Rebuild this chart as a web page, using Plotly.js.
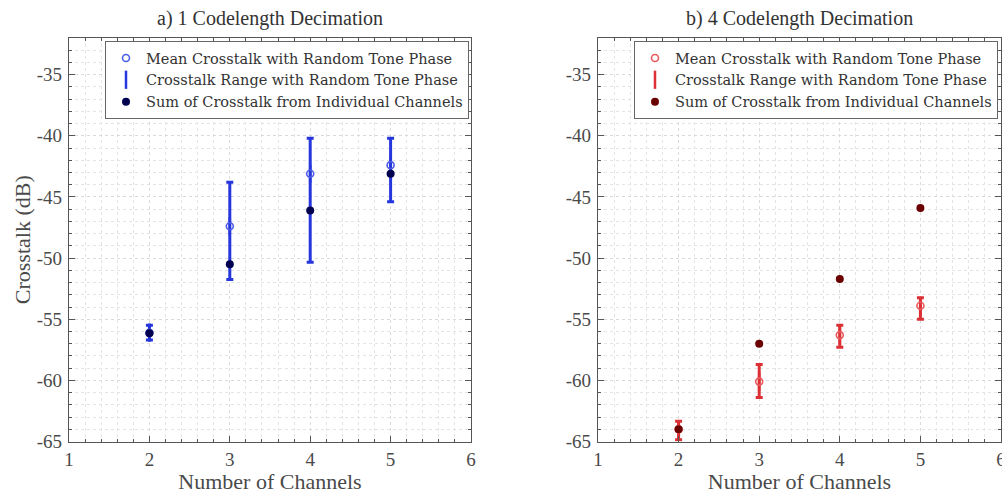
<!DOCTYPE html>
<html>
<head>
<meta charset="utf-8">
<script src="https://cdn.plot.ly/plotly-3.0.1.min.js"></script>
<style>html,body{margin:0;padding:0;background:#fff;}#chart{width:1002px;height:495px;}</style>
</head>
<body>
<div id="chart"></div>
<script>
// ---- data ----
const channels = [2, 3, 4, 5];

// a) 1 Codelength Decimation
const meanA = [-56.1, -47.4, -43.1, -42.4];
const maxA  = [-55.5, -43.8, -40.2, -40.2];
const minA  = [-56.7, -51.75, -50.35, -45.4];
const sumA  = [-56.15, -50.5, -46.1, -43.1];

// b) 4 Codelength Decimation
const meanB = [-64.0, -60.1, -56.3, -53.9];
const maxB  = [-63.35, -58.7, -55.5, -53.25];
const minB  = [-64.85, -61.4, -57.3, -55.0];
const sumB  = [-64.0, -57.0, -51.7, -45.9];

// tick labels
const xTickVals = [1, 2, 3, 4, 5, 6];
const xTickText = ['1', '2', '3', '4', '5', '6'];
const yTickVals = [-65, -60, -55, -50, -45, -40, -35];
const yTickText = ['-65', '-60', '-55', '-50', '-45', '-40', '-35'];

const legendLabels = [
  'Mean Crosstalk with Random Tone Phase',
  'Crosstalk Range with Random Tone Phase',
  'Sum of Crosstalk from Individual Channels'
];
const panelTitles = ['a) 1 Codelength Decimation', 'b) 4 Codelength Decimation'];
const xTitle = 'Number of Channels';
const yTitle = 'Crosstalk (dB)';

// ---- styling ----
const FONT = 'Liberation Serif, Times New Roman, serif';
const LFONT = 'DejaVu Serif, Liberation Serif, serif';
const TXT = '#4a4a4a';
const AX = '#555555';

function panelTraces(mean, mx, mn, sum, xa, ya, lg, cErr, cMean, cSum) {
  const up = mx.map((v, i) => v - mean[i]);
  const dn = mn.map((v, i) => mean[i] - v);
  return [
    { // range: error bars (legend symbol is a vertical line)
      type: 'scatter', mode: 'markers', x: channels, y: mean,
      xaxis: xa, yaxis: ya, legend: lg, legendrank: 2,
      name: legendLabels[1],
      marker: {symbol: 'line-ns-open', size: 13, color: cErr, line: {color: cErr, width: 2.5}},
      error_y: {type: 'data', symmetric: false, array: up, arrayminus: dn,
                color: cErr, thickness: 3, width: 3.5},
      hoverinfo: 'skip'
    },
    { // mean: open circles
      type: 'scatter', mode: 'markers', x: channels, y: mean,
      xaxis: xa, yaxis: ya, legend: lg, legendrank: 1,
      name: legendLabels[0],
      marker: {symbol: 'circle-open', size: 7, color: cMean, line: {color: cMean, width: 1.6}}
    },
    { // sum: filled dots
      type: 'scatter', mode: 'markers', x: channels, y: sum,
      xaxis: xa, yaxis: ya, legend: lg, legendrank: 3,
      name: legendLabels[2],
      marker: {symbol: 'circle', size: 8, color: cSum}
    }
  ];
}

const data = [].concat(
  panelTraces(meanA, maxA, minA, sumA, 'x', 'y', 'legend', '#2536dc', '#4d5ce6', '#00004f'),
  panelTraces(meanB, maxB, minB, sumB, 'x2', 'y2', 'legend2', '#dc3035', '#ea5a5e', '#6a0000')
);

const W = 1002, H = 495;
const yDom = [1 - 441.5 / H, 1 - 38 / H];

function xAxis(dom, anchor) {
  return {
    domain: dom, anchor: anchor, range: [1, 6],
    tickmode: 'array', tickvals: xTickVals, ticktext: xTickText,
    ticks: 'inside', ticklen: 6, tickwidth: 1, tickcolor: AX,
    ticklabeloverflow: 'allow',
    showline: true, linecolor: AX, linewidth: 1.2, mirror: 'ticks',
    showgrid: true, gridcolor: '#dadada', griddash: 'dot', gridwidth: 1,
    zeroline: false,
    minor: {dtick: 0.2, tick0: 1, ticks: 'inside', ticklen: 3, tickcolor: AX,
            showgrid: true, gridcolor: '#e4e4e4', griddash: 'dot', gridwidth: 1},
    tickfont: {family: FONT, size: 19, color: TXT},
    title: {text: xTitle, font: {family: FONT, size: 22, color: TXT}, standoff: 2}
  };
}
function yAxis(anchor, withTitle) {
  const a = {
    domain: yDom, anchor: anchor, range: [-65, -32],
    tickmode: 'array', tickvals: yTickVals, ticktext: yTickText,
    ticks: 'inside', ticklen: 6, tickwidth: 1, tickcolor: AX,
    showline: true, linecolor: AX, linewidth: 1.2, mirror: 'ticks',
    showgrid: true, gridcolor: '#dadada', griddash: 'dot', gridwidth: 1,
    zeroline: false,
    minor: {dtick: 1, tick0: -65, ticks: 'inside', ticklen: 3, tickcolor: AX,
            showgrid: true, gridcolor: '#e4e4e4', griddash: 'dot', gridwidth: 1},
    tickfont: {family: FONT, size: 19, color: TXT},
    ticklabelstandoff: 2
  };
  if (withTitle) a.title = {text: yTitle, font: {family: FONT, size: 22, color: TXT}, standoff: 0};
  return a;
}

function legendBox(x) {
  return {
    x: x, y: 1 - 41 / H, xanchor: 'left', yanchor: 'top', xref: 'paper', yref: 'paper',
    bgcolor: '#ffffff', bordercolor: '#666666', borderwidth: 1,
    font: {family: LFONT, size: 14.5, color: '#333333'},
    itemwidth: 30, tracegroupgap: 0
  };
}

const layout = {
  width: W, height: H,
  margin: {l: 0, r: 0, t: 0, b: 0},
  paper_bgcolor: '#ffffff', plot_bgcolor: '#ffffff',
  showlegend: true,
  xaxis: xAxis([69 / W, 471 / W], 'y'),
  yaxis: yAxis('x', true),
  xaxis2: xAxis([598 / W, 1001 / W], 'y2'),
  yaxis2: yAxis('x2', false),
  legend: legendBox(105 / W),
  legend2: legendBox(634 / W),
  annotations: [
    {text: panelTitles[0], x: 270 / W, y: 1 - 18 / H, xref: 'paper', yref: 'paper',
     xanchor: 'center', yanchor: 'middle', showarrow: false,
     font: {family: FONT, size: 20, color: '#333333'}},
    {text: panelTitles[1], x: 799 / W, y: 1 - 18 / H, xref: 'paper', yref: 'paper',
     xanchor: 'center', yanchor: 'middle', showarrow: false,
     font: {family: FONT, size: 20, color: '#333333'}}
  ]
};

Plotly.newPlot('chart', data, layout, {displayModeBar: false, staticPlot: true});
</script>
</body>
</html>
